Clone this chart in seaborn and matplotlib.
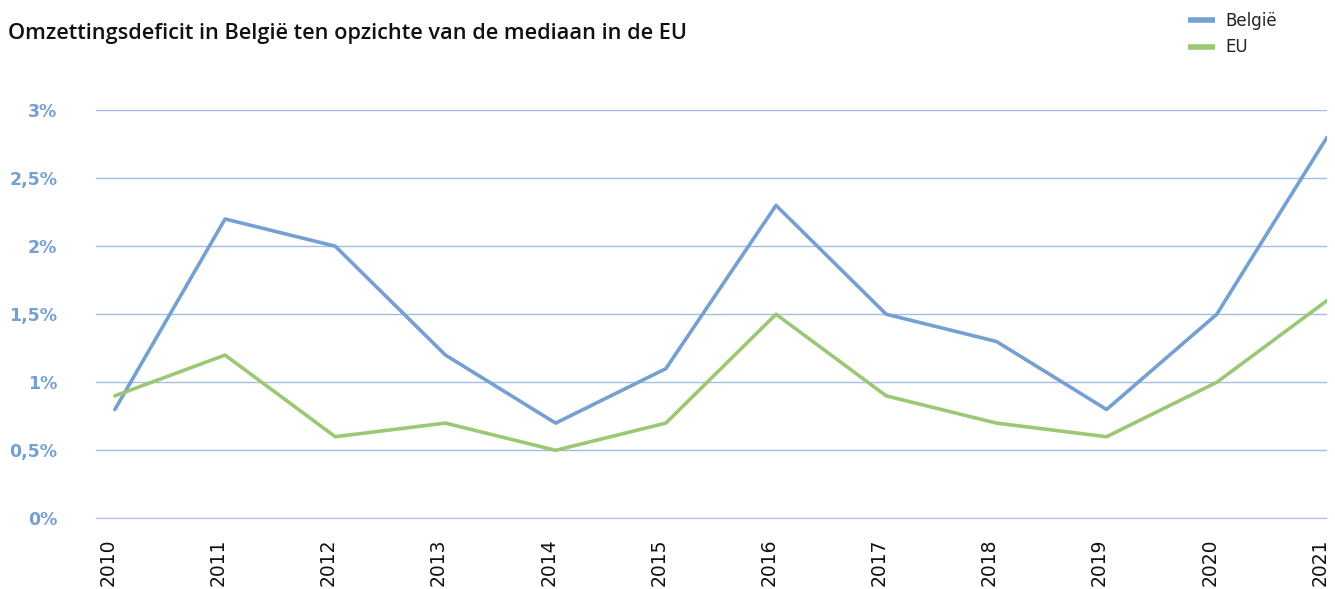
import matplotlib
matplotlib.use("Agg")
import matplotlib.pyplot as plt
import matplotlib.transforms as mtransforms
import seaborn as sns
import pandas as pd
from matplotlib.lines import Line2D

years = [2010, 2011, 2012, 2013, 2014, 2015, 2016, 2017, 2018, 2019, 2020, 2021]
belgie = [0.8, 2.2, 2.0, 1.2, 0.7, 1.1, 2.3, 1.5, 1.3, 0.8, 1.5, 2.8]
eu = [0.9, 1.2, 0.6, 0.7, 0.5, 0.7, 1.5, 0.9, 0.7, 0.6, 1.0, 1.6]
series_names = ["België", "EU"]
y_ticks = [0, 0.5, 1, 1.5, 2, 2.5, 3]
y_labels = ["0%", "0,5%", "1%", "1,5%", "2%", "2,5%", "3%"]
title = "Omzettingsdeficit in België ten opzichte van de mediaan in de EU"

df = pd.concat([
    pd.DataFrame({"jaar": years, "waarde": belgie, "reeks": series_names[0]}),
    pd.DataFrame({"jaar": years, "waarde": eu, "reeks": series_names[1]}),
])

sns.set_theme(style="white")
plt.rcParams["font.family"] = ["DejaVu Sans"]

fig = plt.figure(figsize=(13.35, 5.89), dpi=100)
ax = fig.add_axes([0.072, 0.119, 0.922, 0.695])

palette = {"België": "#74a0d2", "EU": "#9cc875"}
sns.lineplot(data=df, x="jaar", y="waarde", hue="reeks", palette=palette,
             linewidth=2.6, ax=ax, legend=False)

ax.set_xlim(2009.83, 2021)
ax.set_ylim(-0.004, 3.004)
ax.set_yticks(y_ticks)
ax.set_yticklabels(y_labels, color="#74a0d2", fontsize=12.5, fontweight="bold")
ax.set_xticks(years)
ax.set_xticklabels([str(y) for y in years], rotation=90, fontsize=13.5,
                   color="#111111")
ax.tick_params(axis="y", length=0, pad=28)
ax.tick_params(axis="x", length=0, pad=14)
offset = mtransforms.ScaledTranslation(-7 / 100, 0, fig.dpi_scale_trans)
for lab in ax.get_xticklabels():
    lab.set_transform(lab.get_transform() + offset)
ax.yaxis.grid(True, color="#a3bee0", linewidth=1.0)
ax.set_axisbelow(True)
for s in ax.spines.values():
    s.set_visible(False)
ax.set_xlabel("")
ax.set_ylabel("")

fig.text(0.006, 0.943, title, fontsize=15.7, fontweight="semibold", color="#111111",
         ha="left", va="center", family=["Open Sans", "DejaVu Sans"])

handles = [Line2D([0], [0], color=palette[n], linewidth=4, solid_capstyle="butt")
           for n in series_names]
leg = fig.legend(handles, series_names, loc="upper left",
                 bbox_to_anchor=(0.879, 1.005), frameon=False, fontsize=12,
                 handlelength=1.6, handletextpad=0.6, labelspacing=0.5)
for t in leg.get_texts():
    t.set_color("#222222")

fig.savefig("out.png", dpi=100)
